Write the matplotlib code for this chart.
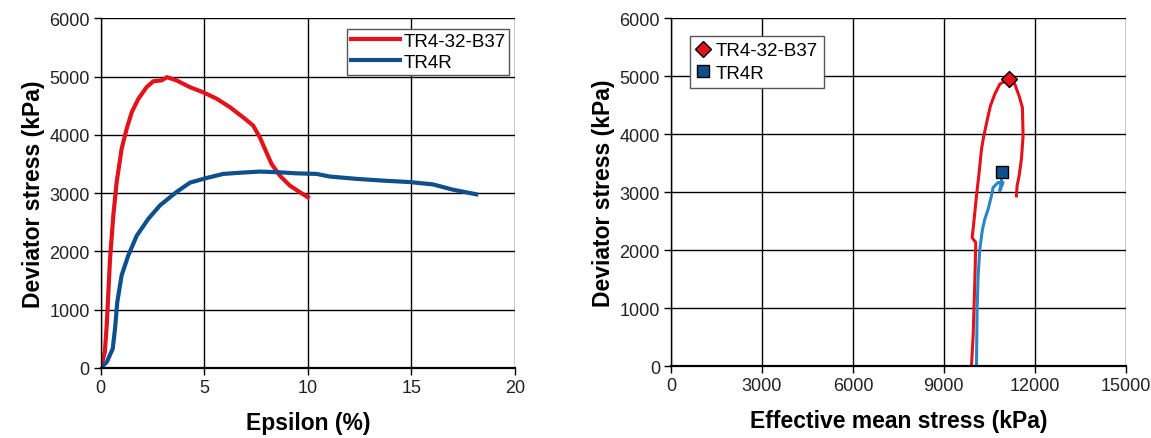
import numpy as np
import matplotlib.pyplot as plt

plt.rcParams['font.family'] = ['Liberation Sans', 'DejaVu Sans']

# left panel: deviator stress vs axial strain
eps_b37 = [0, 0.2, 0.29, 0.45, 0.61, 0.77, 1.01, 1.25, 1.5, 1.82, 2.22, 2.54, 2.94,
           3.2, 3.66, 4.3, 4.95, 5.6, 6.24, 6.88, 7.36, 7.68, 8.0, 8.25, 8.65, 9.13,
           9.6, 10.0]
q_b37 = [0, 275, 730, 1875, 2620, 3190, 3760, 4100, 4390, 4620, 4820, 4920, 4935,
         4990, 4935, 4820, 4730, 4620, 4475, 4300, 4160, 3960, 3700, 3500, 3300,
         3130, 3020, 2930]
eps_r = [0, 0.29, 0.58, 0.69, 0.8, 1.01, 1.33, 1.74, 2.3, 2.86, 3.66, 4.31, 5.11,
         5.92, 6.72, 7.68, 8.49, 9.45, 10.42, 11.06, 12.35, 13.63, 14.92, 16.04,
         17.0, 18.13]
q_r = [0, 100, 330, 670, 1130, 1590, 1930, 2270, 2560, 2790, 3020, 3180, 3260,
       3330, 3350, 3370, 3360, 3340, 3330, 3285, 3245, 3215, 3190, 3150, 3060, 2980]

# right panel: stress paths
p_b37 = [9912, 9967, 10022, 10055, 9934, 9989, 10077, 10165, 10242, 10319, 10462,
         10538, 10681, 10846, 11143, 11341, 11484, 11593, 11615, 11560, 11484,
         11418, 11396]
qp_b37 = [0, 518, 1440, 2130, 2215, 2475, 2935, 3340, 3740, 3970, 4318, 4490,
          4690, 4865, 4950, 4865, 4660, 4460, 3970, 3570, 3280, 3110, 2935]
p_r = [10077, 10099, 10132, 10187, 10275, 10352, 10462, 10571, 10626, 10791,
       10956, 10846, 10900]
qp_r = [0, 979, 1554, 2015, 2360, 2533, 2706, 2936, 3080, 3166, 3166, 3022, 3200]
peak_b37 = (11143, 4950)
peak_r = (10923, 3356)

red = '#e3121b'
dblue = '#0e4f8c'
lblue = '#2a86c8'

fig = plt.figure(figsize=(11.51, 4.39), dpi=100)
ax1 = fig.add_axes([0.0875, 0.1595, 0.3599, 0.7965])
ax2 = fig.add_axes([0.583, 0.164, 0.395, 0.792])

for ax in (ax1, ax2):
    ax.grid(True, color='black', linewidth=1.0)
    ax.set_axisbelow(True)
    for s in ax.spines.values():
        s.set_visible(False)
    ax.spines['left'].set_visible(True)
    ax.spines['bottom'].set_visible(True)
    ax.spines['bottom'].set_linewidth(1.6)
    ax.spines['left'].set_linewidth(1.0)
    ax.tick_params(direction='out', length=5, width=1, labelsize=13, pad=3,
                   labelcolor='#222222')
    ax.set_ylim(0, 6000)
    ax.set_yticks(np.arange(0, 6001, 1000))
    ax.set_ylabel('Deviator stress (kPa)', fontsize=16.5, fontweight='bold', labelpad=3)

ax1.plot(eps_b37, q_b37, color=red, lw=3, label='TR4-32-B37')
ax1.plot(eps_r, q_r, color=dblue, lw=3, label='TR4R')
ax1.set_xlim(0, 20)
ax1.set_xticks(np.arange(0, 21, 5))
ax1.set_xlabel('Epsilon (%)', fontsize=16.5, fontweight='bold', labelpad=11)
leg = ax1.legend(loc='upper right', bbox_to_anchor=(1.0, 0.985), fontsize=13.5,
                 fancybox=False, framealpha=1, edgecolor='#555555',
                 handlelength=2.6, borderpad=0.2, labelspacing=0.2, handletextpad=0.2,
                 borderaxespad=0.3)

ax2.plot(p_b37, qp_b37, color=red, lw=2.2)
ax2.plot(p_r, qp_r, color=lblue, lw=2.2)
ax2.plot([peak_b37[0]], [peak_b37[1]], 'D', color=red, mec='black', ms=8,
         label='TR4-32-B37')
ax2.plot([peak_r[0]], [peak_r[1]], 's', color=dblue, mec='black', ms=8, label='TR4R')
ax2.set_xlim(0, 15000)
ax2.set_xticks(np.arange(0, 15001, 3000))
ax2.set_xlabel('Effective mean stress (kPa)', fontsize=16.5, fontweight='bold', labelpad=11)
ax2.legend(loc='upper left', bbox_to_anchor=(0.02, 0.975), fontsize=13.5,
           fancybox=False, framealpha=1, edgecolor='#555555', handlelength=0.8,
           borderpad=0.3, labelspacing=0.3, handletextpad=0.3)

fig.savefig('out.png', dpi=100)
